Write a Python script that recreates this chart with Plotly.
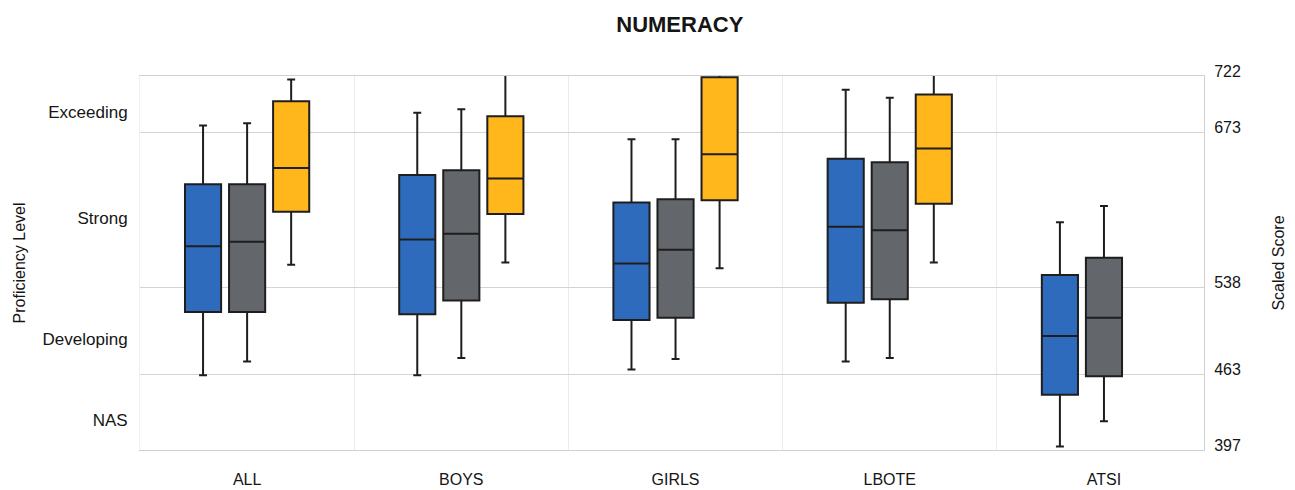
import plotly.graph_objects as go

# categories and the three series (box-plot five number summaries, scaled score)
groups = ['ALL', 'BOYS', 'GIRLS', 'LBOTE', 'ATSI']
x_pos = [0, 1, 2, 3, 4]

blue_low = [462, 462, 467, 474, 400]
blue_q1 = [517, 515, 510, 525, 445]
blue_med = [574, 580, 559, 591, 496]
blue_q3 = [628, 636, 612, 650, 549]
blue_high = [679, 690, 667, 710, 595]

gray_low = [474, 477, 476, 477, 422]
gray_q1 = [517, 527, 512, 528, 461]
gray_med = [578, 585, 571, 588, 512]
gray_q3 = [628, 640, 615, 647, 564]
gray_high = [681, 693, 667, 703, 609]

# no yellow box for ATSI
yellow_x = [0, 1, 2, 3]
yellow_low = [558, 560, 555, 560]
yellow_q1 = [604, 602, 614, 611]
yellow_med = [642, 633, 654, 659]
yellow_q3 = [700, 687, 721, 706]
yellow_high = [719, 726, 735, 730]

score_ticks = [397, 463, 538, 673, 722]
level_names = ['NAS', 'Developing', 'Strong', 'Exceeding']

level_mids = [(score_ticks[i] + score_ticks[i + 1]) / 2 for i in range(len(level_names))]

outline = '#1e1e1e'
series = [
    (x_pos, blue_low, blue_q1, blue_med, blue_q3, blue_high, '#2e6bbd'),
    (x_pos, gray_low, gray_q1, gray_med, gray_q3, gray_high, '#63666a'),
    (yellow_x, yellow_low, yellow_q1, yellow_med, yellow_q3, yellow_high, '#ffb71b'),
]

fig = go.Figure()
for xs, lo, q1, med, q3, hi, col in series:
    fig.add_trace(go.Box(
        x=xs, lowerfence=lo, q1=q1, median=med, q3=q3, upperfence=hi,
        fillcolor=col, line=dict(color=outline, width=2),
        whiskerwidth=0.22, boxpoints=False, showlegend=False,
    ))

# empty trace so the left (proficiency level) axis gets drawn
fig.add_trace(go.Scatter(x=[0], y=[None], yaxis='y2', mode='markers',
                         showlegend=False, hoverinfo='skip'))

# page body has an 8px margin, so the figure is 8px smaller than the window
fig.update_layout(
    width=1287, height=482,
    margin=dict(l=132, r=91, t=68, b=40),
    paper_bgcolor='white', plot_bgcolor='white',
    font=dict(family='Liberation Sans, Arial, sans-serif', color='#151515'),
    title=dict(text='<b>NUMERACY</b>', font=dict(size=22, color='#151515'),
               xref='container', x=0.522, xanchor='center',
               yref='container', y=0.966, yanchor='middle'),
    boxmode='group', boxgap=0.383, boxgroupgap=0.18,
    xaxis=dict(
        range=[-0.5, 4.467], tickmode='array', tickvals=x_pos, ticktext=groups,
        showgrid=False, zeroline=False, ticks='', automargin=False,
        minor=dict(tickmode='array', tickvals=[0.5, 1.5, 2.5, 3.5], showgrid=True,
                   gridcolor='#ebebeb', gridwidth=1, ticks=''),
        showline=True, mirror=True, linecolor='#d0d0d0', linewidth=1,
        tickfont=dict(size=16), ticklabelstandoff=15,
    ),
    yaxis=dict(
        side='right', range=[397, 722], tickmode='array', tickvals=score_ticks,
        showgrid=True, gridcolor='#d4d4d4', gridwidth=1, zeroline=False, ticks='',
        showline=True, linecolor='#d0d0d0', linewidth=1, automargin=False,
        tickfont=dict(size=16), ticklabelstandoff=6, ticklabelshift=-5,
        title=dict(text='Scaled Score', font=dict(size=16), standoff=32),
    ),
    yaxis2=dict(
        overlaying='y', side='left', range=[397, 722], tickmode='array',
        tickvals=level_mids, ticktext=level_names, automargin=False,
        showgrid=False, zeroline=False, ticks='',
        showline=True, linecolor='#f0f0f0',
        tickfont=dict(size=17), ticklabelstandoff=8, ticklabelshift=8,
        title=dict(text='Proficiency Level', font=dict(size=16), standoff=12),
    ),
)

fig.write_html('out.html')
